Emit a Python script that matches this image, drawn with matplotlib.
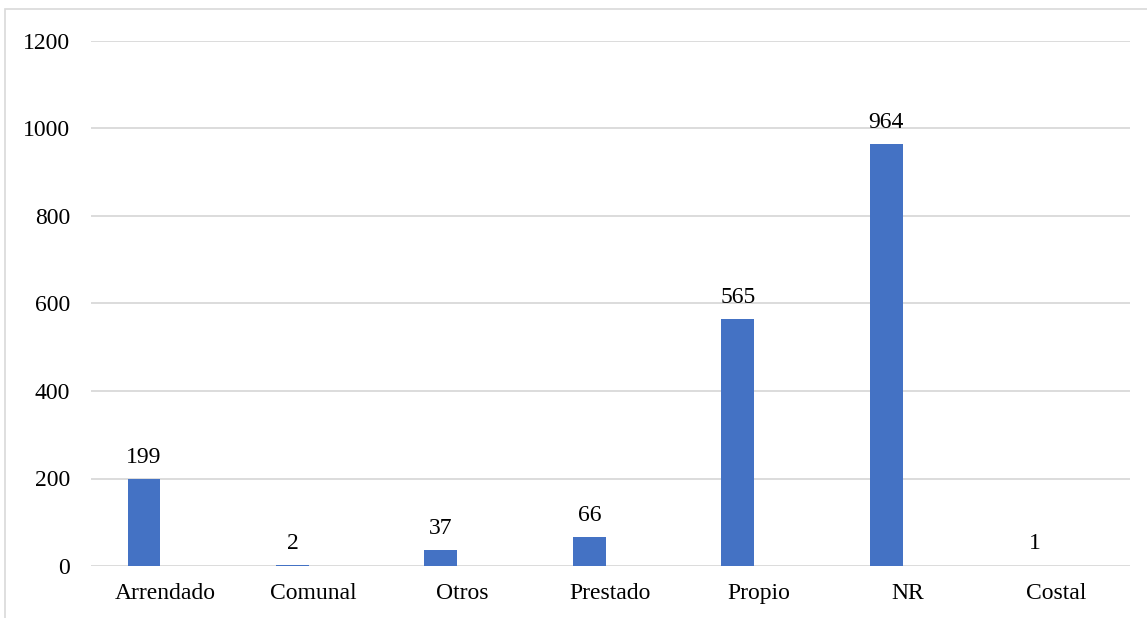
import numpy as np
import matplotlib.pyplot as plt
from matplotlib.patches import Rectangle

# Data
categories = ["Arrendado", "Comunal", "Otros", "Prestado", "Propio", "NR", "Costal"]
values = [199, 2, 37, 66, 565, 964, 1]
y_ticks = [0, 200, 400, 600, 800, 1000, 1200]

plt.rcParams['font.family'] = ['Liberation Serif', 'DejaVu Serif']

fig = plt.figure(figsize=(11.47, 6.18), dpi=100)
ax = fig.add_axes([91/1147, 1 - 566/618, (1130 - 91)/1147, (566 - 41)/618])

x = np.arange(len(categories))
offset = -0.143
bars = ax.bar(x + offset, values, width=0.222, color="#4472C4", zorder=3)

for xi, v in zip(x, values):
    ax.annotate(str(v), (xi + offset, v), xytext=(0, 8), textcoords="offset points",
                ha="center", va="bottom", fontsize=17, color="#000000")

ax.set_xlim(-0.5, len(categories) - 0.5)
ax.set_ylim(0, 1200)
ax.set_yticks(y_ticks)
ax.set_xticks(x)
ax.set_xticklabels(categories)
ax.tick_params(axis="both", length=0, labelsize=17, colors="#000000")
ax.tick_params(axis="y", pad=15)
ax.tick_params(axis="x", pad=12)
ax.grid(axis="y", color="#D9D9D9", linewidth=1.3, zorder=0)
for s in ax.spines.values():
    s.set_visible(False)

# figure border
fig.patches.append(Rectangle((5/1147, -0.01), 1.0, 1 - 9/618 + 0.01, transform=fig.transFigure,
                             fill=False, edgecolor="#D9D9D9", linewidth=1.2))

fig.savefig("out.png", dpi=100)
